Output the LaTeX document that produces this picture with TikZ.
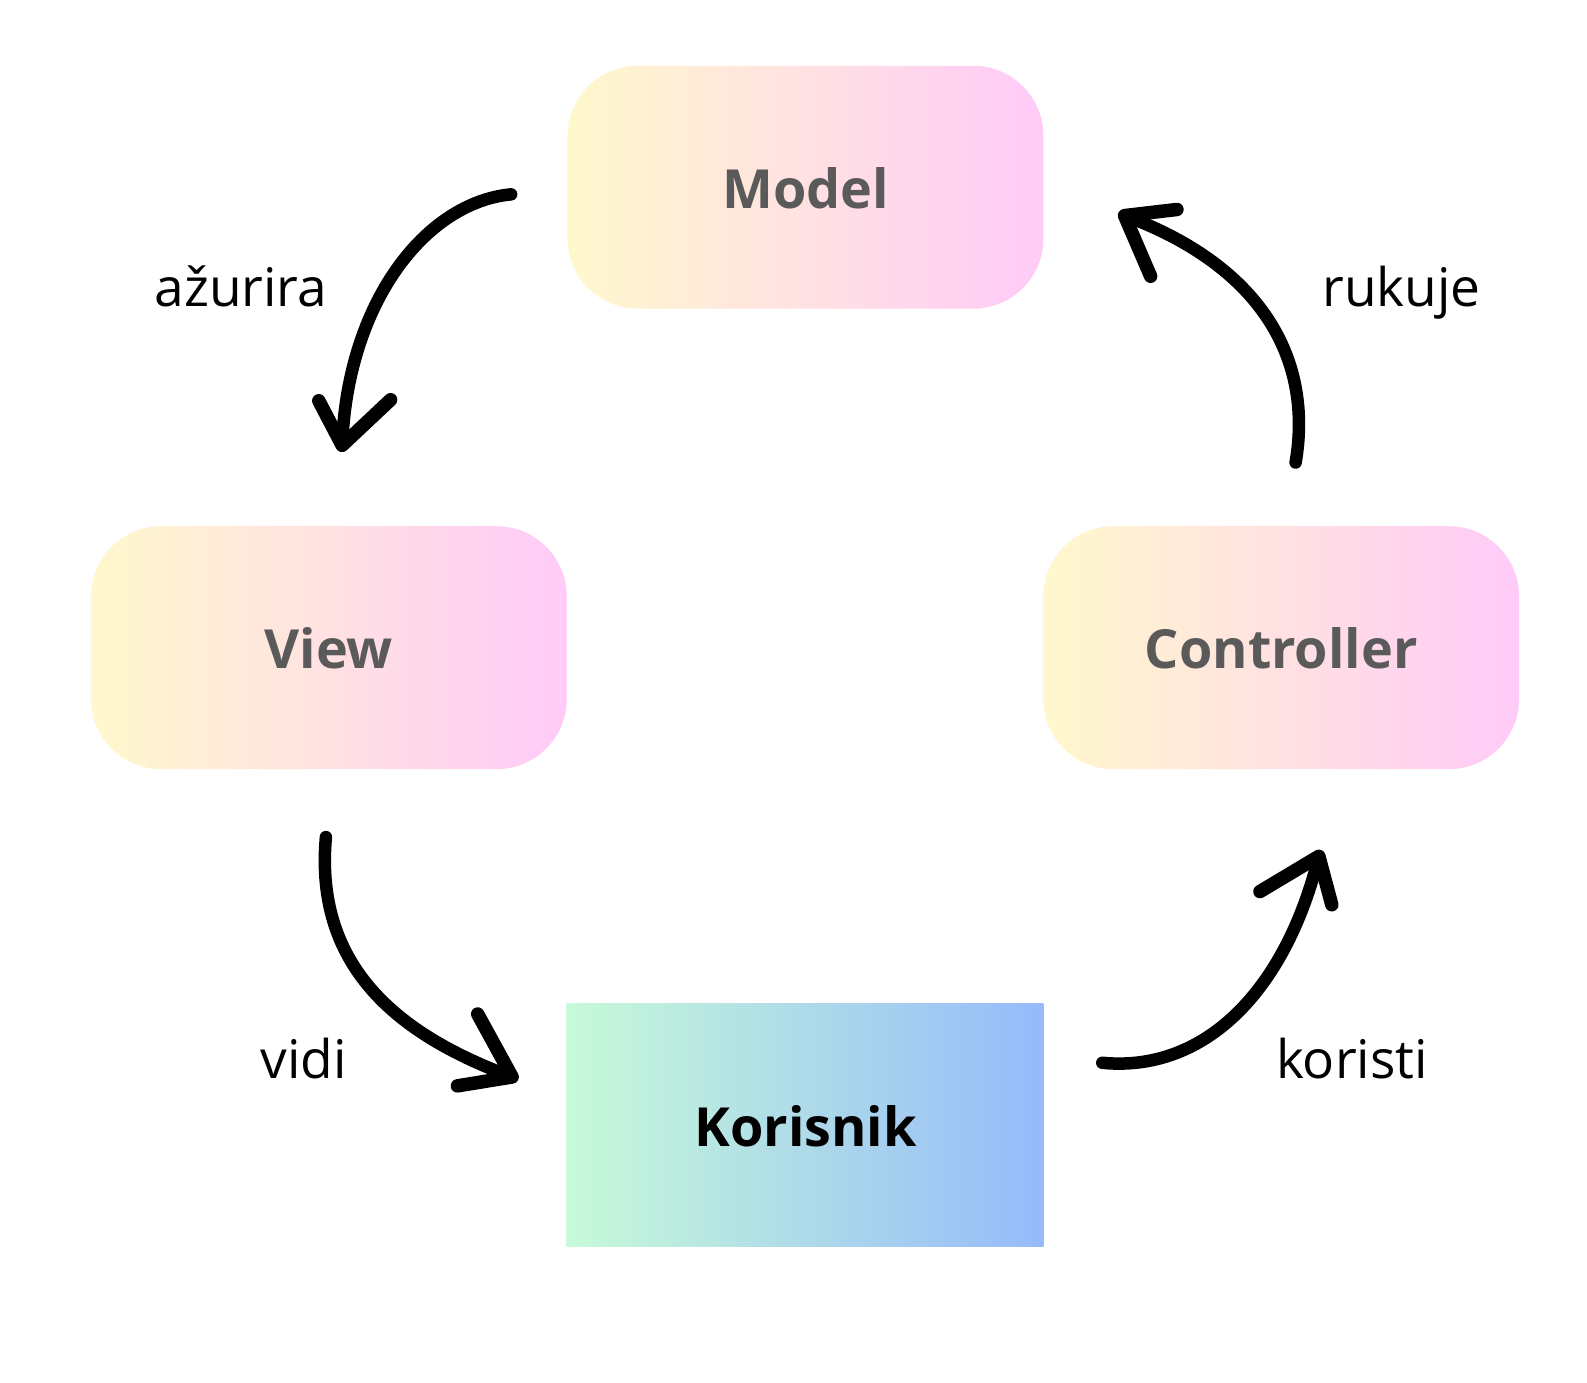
\documentclass[tikz,border=0pt]{standalone}
\usepackage{fontspec}
\setmainfont{Open Sans}
\begin{document}
\begin{tikzpicture}[x=1pt,y=-1pt,scale=1.012,transform shape,
  softbox/.style={rounded corners=70pt,minimum width=470pt,minimum height=240pt,inner sep=0pt,
    left color=boxyellow,right color=boxpink},
  userbox/.style={minimum width=471pt,minimum height=240pt,inner sep=0pt,
    left color=usergreen,right color=userblue},
  boxtext/.style={font=\fontsize{53.3}{60}\selectfont\bfseries,text=txtgray,anchor=base},
  lbl/.style={font=\fontsize{52.6}{60}\selectfont,text=black,anchor=base},
  sketch/.style={line width=12.5pt,line cap=round,line join=round,black},
  barb/.style={line width=13.5pt,line cap=round,line join=round,black}]
\definecolor{boxyellow}{HTML}{FFF8CC}
\definecolor{boxpink}{HTML}{FFCAF8}
\definecolor{usergreen}{HTML}{C7FAD8}
\definecolor{userblue}{HTML}{96BAFA}
\definecolor{txtgray}{HTML}{5A5A5A}
\useasboundingbox[fill=white] (0,0) rectangle (1568.2,1366.6);

\node[softbox] (model) at (796,185) {};
\node[softbox] (view) at (325,640) {};
\node[softbox] (controller) at (1266,640) {};
\node[userbox] (user) at (795.5,1112) {};

\node[boxtext] (tmodel) at (796,206) {Model};
\node[boxtext] (tview) at (325,661) {View};
\node[boxtext] (tcontroller) at (1266,661) {Controller};
\node[boxtext,text=black] (tuser) at (796,1133) {Korisnik};

\node[lbl] (l1) at (238,303) {ažurira};
\node[lbl] (l2) at (1385,303) {rukuje};
\node[lbl] (l3) at (300,1066) {vidi};
\node[lbl] (l4) at (1336,1066) {koristi};

% arrow 1: Model -> View
\coordinate (a1s) at (505,192);
\coordinate (a1t) at (338,440);
\draw[sketch] (a1s) .. controls (420,200) and (343,300) .. (a1t);
\draw[barb] (315,396) -- (a1t) -- (386,395);

% arrow 2: Controller -> Model
\coordinate (a2s) at (1280,457);
\coordinate (a2t) at (1111,213);
\draw[sketch] (a2s) .. controls (1297,360) and (1252,265) .. (a2t);
\draw[barb] (1163,207) -- (a2t) -- (1137,273);

% arrow 3: View -> Korisnik
\coordinate (a3s) at (322,827);
\coordinate (a3t) at (506,1064);
\draw[sketch] (a3s) .. controls (310,960) and (400,1025) .. (a3t);
\draw[barb] (472,1002) -- (a3t) -- (452,1073);

% arrow 4: Korisnik -> Controller
\coordinate (a4s) at (1089,1050);
\coordinate (a4t) at (1303,846);
\draw[sketch] (a4s) .. controls (1190,1060) and (1270,980) .. (a4t);
\draw[barb] (1245,881) -- (a4t) -- (1316,894);
\end{tikzpicture}
\end{document}
